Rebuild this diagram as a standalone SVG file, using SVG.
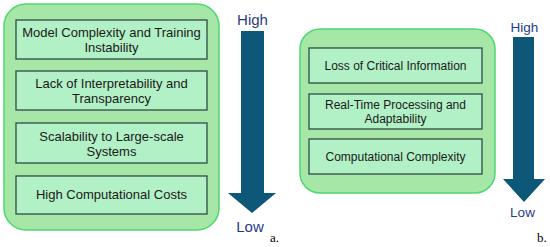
<svg xmlns="http://www.w3.org/2000/svg" width="550" height="247" viewBox="0 0 550 247">
<style>
.panel{fill:#a6e6a6;stroke:#4cd872;stroke-width:1.5}
.box{fill:#b2f0c6;stroke:#2e4d48;stroke-width:1.3}
.t{font-family:"Liberation Sans",Arial,sans-serif;fill:#1a1a1a;text-anchor:middle}
.l{font-family:"Liberation Sans",Arial,sans-serif;fill:#1f3c88;text-anchor:middle}
.arrow{fill:#0d5878}
.cap{font-family:"Liberation Serif","Times New Roman",serif;fill:#000;font-size:13px}
</style>
<rect width="550" height="247" fill="#fff"/>
<g id="panel-a">
<rect class="panel" x="4" y="4" width="215" height="226" rx="22"/>
</g>
<g id="a1"><rect class="box" x="16" y="20" width="191" height="39"/>
<text class="t" font-size="13"><tspan x="111.5" y="37">Model Complexity and Training</tspan><tspan x="111.5" y="52">Instability</tspan></text></g>
<g id="a2"><rect class="box" x="16" y="71" width="191" height="39"/>
<text class="t" font-size="13"><tspan x="111.5" y="88">Lack of Interpretability and</tspan><tspan x="111.5" y="103">Transparency</tspan></text></g>
<g id="a3"><rect class="box" x="16" y="123" width="191" height="40"/>
<text class="t" font-size="13"><tspan x="111.5" y="141">Scalability to Large-scale</tspan><tspan x="111.5" y="156">Systems</tspan></text></g>
<g id="a4"><rect class="box" x="16" y="176" width="191" height="38"/>
<text class="t" font-size="13" x="111.5" y="199">High Computational Costs</text></g>
<g id="arrow-a">
<polygon class="arrow" points="241,31 264,31 264,193 276,193 252,213 228,193 241,193"/>
<text class="l" font-size="15" x="252.5" y="25">High</text>
<text class="l" font-size="15" x="250" y="232">Low</text>
<text class="cap" x="270" y="242">a.</text>
</g>
<g id="panel-b">
<rect class="panel" x="300" y="29" width="195" height="164" rx="20"/>
</g>
<g id="b1"><rect class="box" x="309" y="48" width="173" height="35"/>
<text class="t" font-size="12" x="395.5" y="70">Loss of Critical Information</text></g>
<g id="b2"><rect class="box" x="309" y="94" width="173" height="35"/>
<text class="t" font-size="12"><tspan x="395.5" y="109">Real-Time Processing and</tspan><tspan x="395.5" y="123">Adaptability</tspan></text></g>
<g id="b3"><rect class="box" x="309" y="139" width="173" height="35"/>
<text class="t" font-size="12" x="395.5" y="161">Computational Complexity</text></g>
<g id="arrow-b">
<polygon class="arrow" points="513,37 534,37 534,179 545,179 524,202 503,179 513,179"/>
<text class="l" font-size="13.5" x="524.5" y="32">High</text>
<text class="l" font-size="13.5" x="522.5" y="217">Low</text>
<text class="cap" x="537" y="242">b.</text>
</g>
</svg>
